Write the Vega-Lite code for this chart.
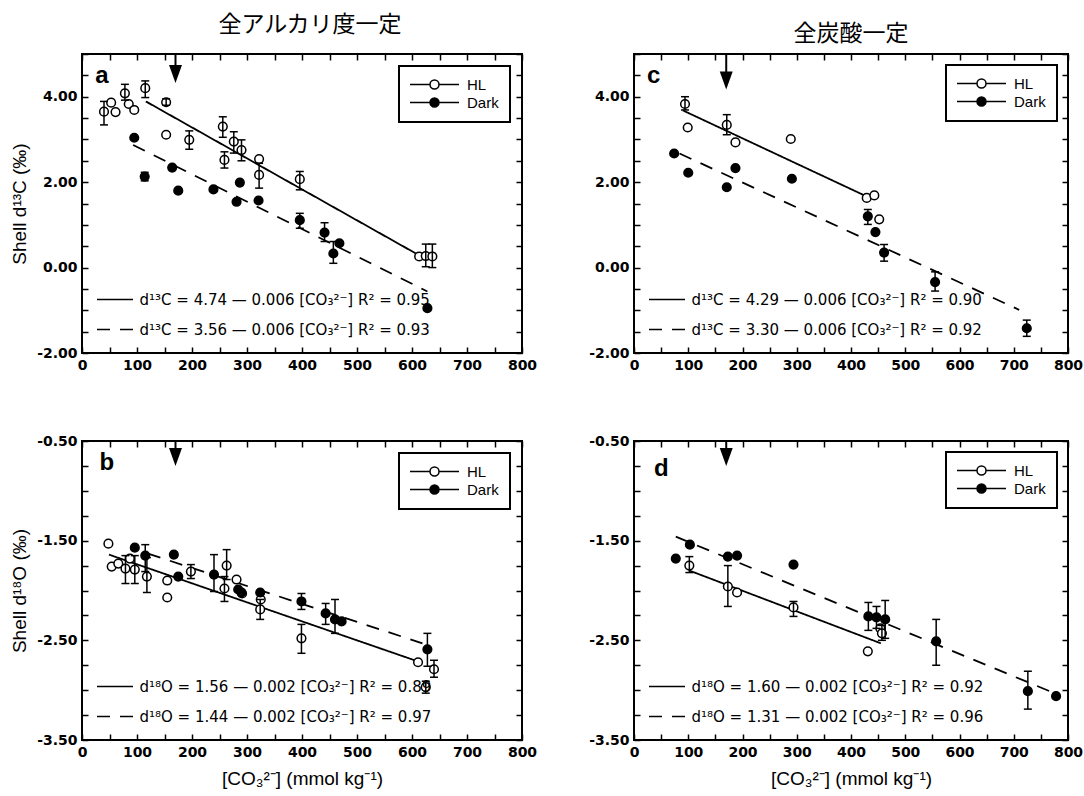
{
"$schema": "https://vega.github.io/schema/vega-lite/v6.json",
"padding": {"left": 9, "top": 13, "right": 0, "bottom": 0},
"columns": 2,
"spacing": {"row": 60, "column": 49},
"resolve": {"scale": {"strokeDash": "independent", "fill": "independent", "x": "independent", "y": "independent"}, "legend": {"strokeDash": "independent", "fill": "independent"}},
"datasets": {
"pa": [
{"x":40,"y":3.65,"series":"HL","lo":3.34,"hi":3.89},
{"x":53,"y":3.86,"series":"HL"},
{"x":61,"y":3.64,"series":"HL"},
{"x":78,"y":4.08,"series":"HL","lo":3.92,"hi":4.29},
{"x":85,"y":3.83,"series":"HL"},
{"x":95,"y":3.69,"series":"HL"},
{"x":115,"y":4.2,"series":"HL","lo":3.98,"hi":4.37},
{"x":153,"y":3.87,"series":"HL","lo":3.8,"hi":3.95},
{"x":153,"y":3.11,"series":"HL"},
{"x":195,"y":2.99,"series":"HL","lo":2.77,"hi":3.2},
{"x":256,"y":3.3,"series":"HL","lo":3.05,"hi":3.53},
{"x":259,"y":2.52,"series":"HL","lo":2.33,"hi":2.71},
{"x":276,"y":2.95,"series":"HL","lo":2.68,"hi":3.18},
{"x":290,"y":2.75,"series":"HL","lo":2.5,"hi":2.99},
{"x":322,"y":2.54,"series":"HL"},
{"x":322,"y":2.17,"series":"HL","lo":1.86,"hi":2.44},
{"x":396,"y":2.07,"series":"HL","lo":1.82,"hi":2.25},
{"x":613,"y":0.26,"series":"HL"},
{"x":625,"y":0.27,"series":"HL","lo":0.02,"hi":0.55},
{"x":637,"y":0.26,"series":"HL","lo":0.0,"hi":0.55},
{"x":95,"y":3.04,"series":"Dark"},
{"x":114,"y":2.13,"series":"Dark","lo":2.03,"hi":2.23},
{"x":164,"y":2.34,"series":"Dark"},
{"x":175,"y":1.8,"series":"Dark"},
{"x":239,"y":1.83,"series":"Dark"},
{"x":281,"y":1.54,"series":"Dark"},
{"x":287,"y":1.99,"series":"Dark"},
{"x":321,"y":1.57,"series":"Dark"},
{"x":396,"y":1.11,"series":"Dark","lo":0.92,"hi":1.27},
{"x":441,"y":0.82,"series":"Dark","lo":0.61,"hi":1.05},
{"x":457,"y":0.33,"series":"Dark","lo":0.1,"hi":0.61},
{"x":468,"y":0.57,"series":"Dark"},
{"x":628,"y":-0.95,"series":"Dark"}
],
"la": [
{"x":116,"y":3.89,"eq":"d¹³C = 4.74 — 0.006 [CO₃²⁻] R² = 0.95"},
{"x":607,"y":0.33,"eq":"d¹³C = 4.74 — 0.006 [CO₃²⁻] R² = 0.95"},
{"x":93,"y":2.87,"eq":"d¹³C = 3.56 — 0.006 [CO₃²⁻] R² = 0.93"},
{"x":628,"y":-0.56,"eq":"d¹³C = 3.56 — 0.006 [CO₃²⁻] R² = 0.93"}
],
"pb": [
{"x":48,"y":-1.53,"series":"HL"},
{"x":54,"y":-1.76,"series":"HL"},
{"x":66,"y":-1.73,"series":"HL"},
{"x":79,"y":-1.78,"series":"HL","lo":-1.93,"hi":-1.65},
{"x":87,"y":-1.68,"series":"HL"},
{"x":96,"y":-1.79,"series":"HL","lo":-1.93,"hi":-1.65},
{"x":118,"y":-1.86,"series":"HL","lo":-2.02,"hi":-1.67},
{"x":155,"y":-1.9,"series":"HL"},
{"x":155,"y":-2.07,"series":"HL"},
{"x":198,"y":-1.81,"series":"HL","lo":-1.88,"hi":-1.74},
{"x":259,"y":-1.98,"series":"HL","lo":-2.11,"hi":-1.86},
{"x":263,"y":-1.75,"series":"HL","lo":-1.89,"hi":-1.59},
{"x":281,"y":-1.89,"series":"HL"},
{"x":291,"y":-2.03,"series":"HL"},
{"x":325,"y":-2.09,"series":"HL"},
{"x":324,"y":-2.19,"series":"HL","lo":-2.29,"hi":-2.09},
{"x":399,"y":-2.48,"series":"HL","lo":-2.63,"hi":-2.34},
{"x":611,"y":-2.72,"series":"HL"},
{"x":625,"y":-2.97,"series":"HL","lo":-3.03,"hi":-2.91},
{"x":640,"y":-2.79,"series":"HL","lo":-2.87,"hi":-2.7},
{"x":96,"y":-1.57,"series":"Dark"},
{"x":115,"y":-1.65,"series":"Dark","lo":-1.81,"hi":-1.54},
{"x":167,"y":-1.64,"series":"Dark"},
{"x":175,"y":-1.86,"series":"Dark"},
{"x":240,"y":-1.84,"series":"Dark","lo":-2.01,"hi":-1.64},
{"x":284,"y":-1.99,"series":"Dark"},
{"x":290,"y":-2.02,"series":"Dark"},
{"x":324,"y":-2.02,"series":"Dark"},
{"x":399,"y":-2.11,"series":"Dark","lo":-2.19,"hi":-2.03},
{"x":443,"y":-2.23,"series":"Dark","lo":-2.34,"hi":-2.13},
{"x":460,"y":-2.29,"series":"Dark","lo":-2.43,"hi":-2.09},
{"x":472,"y":-2.31,"series":"Dark"},
{"x":628,"y":-2.59,"series":"Dark","lo":-2.76,"hi":-2.43}
],
"lb": [
{"x":49,"y":-1.64,"eq":"d¹⁸O = 1.56 — 0.002 [CO₃²⁻] R² = 0.89"},
{"x":610,"y":-2.71,"eq":"d¹⁸O = 1.56 — 0.002 [CO₃²⁻] R² = 0.89"},
{"x":120,"y":-1.63,"eq":"d¹⁸O = 1.44 — 0.002 [CO₃²⁻] R² = 0.97"},
{"x":619,"y":-2.53,"eq":"d¹⁸O = 1.44 — 0.002 [CO₃²⁻] R² = 0.97"}
],
"pc": [
{"x":94,"y":3.83,"series":"HL","lo":3.69,"hi":4.0},
{"x":99,"y":3.28,"series":"HL"},
{"x":171,"y":3.34,"series":"HL","lo":3.11,"hi":3.58},
{"x":187,"y":2.93,"series":"HL"},
{"x":289,"y":3.01,"series":"HL"},
{"x":429,"y":1.63,"series":"HL"},
{"x":443,"y":1.69,"series":"HL"},
{"x":452,"y":1.13,"series":"HL"},
{"x":74,"y":2.67,"series":"Dark"},
{"x":100,"y":2.22,"series":"Dark"},
{"x":171,"y":1.88,"series":"Dark"},
{"x":187,"y":2.33,"series":"Dark"},
{"x":291,"y":2.08,"series":"Dark"},
{"x":431,"y":1.2,"series":"Dark","lo":1.01,"hi":1.36},
{"x":445,"y":0.83,"series":"Dark"},
{"x":461,"y":0.35,"series":"Dark","lo":0.15,"hi":0.54},
{"x":555,"y":-0.34,"series":"Dark","lo":-0.55,"hi":-0.1},
{"x":724,"y":-1.42,"series":"Dark","lo":-1.61,"hi":-1.23}
],
"lc": [
{"x":90,"y":3.68,"eq":"d¹³C = 4.29 — 0.006 [CO₃²⁻] R² = 0.90"},
{"x":428,"y":1.67,"eq":"d¹³C = 4.29 — 0.006 [CO₃²⁻] R² = 0.90"},
{"x":84,"y":2.67,"eq":"d¹³C = 3.30 — 0.006 [CO₃²⁻] R² = 0.92"},
{"x":710,"y":-0.99,"eq":"d¹³C = 3.30 — 0.006 [CO₃²⁻] R² = 0.92"}
],
"pd": [
{"x":102,"y":-1.75,"series":"HL","lo":-1.82,"hi":-1.66},
{"x":173,"y":-1.96,"series":"HL","lo":-2.16,"hi":-1.75},
{"x":190,"y":-2.02,"series":"HL"},
{"x":294,"y":-2.17,"series":"HL","lo":-2.26,"hi":-2.11},
{"x":431,"y":-2.61,"series":"HL"},
{"x":454,"y":-2.38,"series":"HL"},
{"x":457,"y":-2.43,"series":"HL","lo":-2.5,"hi":-2.35},
{"x":77,"y":-1.68,"series":"Dark"},
{"x":103,"y":-1.54,"series":"Dark"},
{"x":173,"y":-1.66,"series":"Dark"},
{"x":190,"y":-1.65,"series":"Dark"},
{"x":294,"y":-1.74,"series":"Dark"},
{"x":432,"y":-2.26,"series":"Dark","lo":-2.4,"hi":-2.12},
{"x":447,"y":-2.27,"series":"Dark","lo":-2.38,"hi":-2.16},
{"x":463,"y":-2.29,"series":"Dark","lo":-2.48,"hi":-2.1},
{"x":557,"y":-2.51,"series":"Dark","lo":-2.75,"hi":-2.29},
{"x":726,"y":-3.01,"series":"Dark","lo":-3.19,"hi":-2.81},
{"x":778,"y":-3.06,"series":"Dark"}
],
"ld": [
{"x":102,"y":-1.8,"eq":"d¹⁸O = 1.60 — 0.002 [CO₃²⁻] R² = 0.92"},
{"x":455,"y":-2.53,"eq":"d¹⁸O = 1.60 — 0.002 [CO₃²⁻] R² = 0.92"},
{"x":77,"y":-1.46,"eq":"d¹⁸O = 1.31 — 0.002 [CO₃²⁻] R² = 0.96"},
{"x":775,"y":-3.03,"eq":"d¹⁸O = 1.31 — 0.002 [CO₃²⁻] R² = 0.96"}
]
},
"concat": [
{
"width": 440, "height": 299,
"title": {"text": "全アルカリ度一定", "font": "Noto Sans CJK JP", "fontSize": 23, "fontWeight": "normal", "color": "black", "anchor": "middle", "frame": "group", "offset": 10, "dx": 8},
"data": {"values": [{}]},
"resolve": {"axis": {"x": "independent", "y": "independent"}},
"layer": [
{"data": {"name": "la"}, "mark": {"type": "line", "color": "black", "strokeWidth": 1.8},
 "encoding": {
  "x": {"field": "x", "type": "quantitative", "scale": {"domain": [0, 800], "nice": false, "zero": false}, "axis": {"orient": "top", "values": [0,50,100,150,200,250,300,350,400,450,500,550,600,650,700,750,800], "labels": false, "title": null}},
  "y": {"field": "y", "type": "quantitative", "scale": {"domain": [-2, 5], "nice": false, "zero": false}, "axis": {"orient": "right", "values": [-2,-1.5,-1,-0.5,0,0.5,1,1.5,2,2.5,3,3.5,4,4.5,5], "labels": false, "title": null}},
  "strokeDash": {"field": "eq", "type": "nominal", "scale": {"domain": ["d¹³C = 4.74 — 0.006 [CO₃²⁻] R² = 0.95", "d¹³C = 3.56 — 0.006 [CO₃²⁻] R² = 0.93"], "range": [[1, 0], [13, 10]]},
   "legend": {"title": null, "orient": "bottom-left", "offset": 15, "padding": 0, "symbolType": "M-3.6,0H3.6", "symbolSize": 100, "symbolStrokeColor": "black", "symbolStrokeWidth": 1.5, "symbolOffset": 10.5, "labelOffset": 17, "rowPadding": 14, "labelFont": "DejaVu Sans", "labelFontSize": 15, "labelColor": "black", "labelLimit": 600}}
 }},
{"data": {"name": "pa"}, "mark": {"type": "point", "size": 75, "stroke": "black", "strokeWidth": 1.5, "opacity": 1},
 "encoding": {
  "x": {"field": "x", "type": "quantitative", "scale": {"domain": [0, 800], "nice": false, "zero": false}, "axis": {"orient": "bottom", "values": [0,50,100,150,200,250,300,350,400,450,500,550,600,650,700,750,800], "labelExpr": "datum.value % 100 === 0 ? format(datum.value, 'd') : ''", "title": null}},
  "y": {"field": "y", "type": "quantitative", "scale": {"domain": [-2, 5], "nice": false, "zero": false}, "axis": {"orient": "left", "values": [-2,-1.5,-1,-0.5,0,0.5,1,1.5,2,2.5,3,3.5,4,4.5,5], "labelExpr": "datum.value % 2 === 0 ? replace(format(datum.value, '.2f'), '−', '-') : ''", "title": "Shell d¹³C (‰)", "titlePadding": 7}},
  "fill": {"field": "series", "type": "nominal", "scale": {"domain": ["HL", "Dark"], "range": ["white", "black"]},
   "legend": {"title": null, "orient": "top-right", "offset": 12, "strokeColor": "black", "fillColor": "white", "padding": 11, "symbolType": "M-4.9,0H-0.9M0.9,0H4.9M-0.9,0A0.9,0.9 0 1,0 0.9,0A0.9,0.9 0 1,0 -0.9,0", "symbolSize": 100, "symbolStrokeColor": "black", "symbolStrokeWidth": 1.5, "symbolOffset": 17, "labelOffset": 25, "rowPadding": 2, "labelFont": "Liberation Sans", "labelFontSize": 15, "labelColor": "black"}}
 }},
{"data": {"name": "pa"}, "transform": [{"filter": "isValid(datum.lo)"}], "mark": {"type": "rule", "color": "black", "strokeWidth": 1.5},
 "encoding": {
  "x": {"field": "x", "type": "quantitative", "scale": {"domain": [0, 800], "nice": false, "zero": false}, "axis": null},
  "y": {"field": "lo", "type": "quantitative", "scale": {"domain": [-2, 5], "nice": false, "zero": false}, "axis": null},
  "y2": {"field": "hi"}
 }},
{"data": {"name": "pa"}, "transform": [{"filter": "isValid(datum.lo)"}], "mark": {"type": "point", "shape": "stroke", "size": 64, "color": "black", "strokeWidth": 1.5, "opacity": 1},
 "encoding": {
  "x": {"field": "x", "type": "quantitative", "scale": {"domain": [0, 800], "nice": false, "zero": false}, "axis": null},
  "y": {"field": "lo", "type": "quantitative", "scale": {"domain": [-2, 5], "nice": false, "zero": false}, "axis": null}
 }},
{"data": {"name": "pa"}, "transform": [{"filter": "isValid(datum.hi)"}], "mark": {"type": "point", "shape": "stroke", "size": 64, "color": "black", "strokeWidth": 1.5, "opacity": 1},
 "encoding": {
  "x": {"field": "x", "type": "quantitative", "scale": {"domain": [0, 800], "nice": false, "zero": false}, "axis": null},
  "y": {"field": "hi", "type": "quantitative", "scale": {"domain": [-2, 5], "nice": false, "zero": false}, "axis": null}
 }},
{"mark": {"type": "rule", "color": "black", "strokeWidth": 2},
 "encoding": {
  "x": {"datum": 170, "type": "quantitative", "scale": {"domain": [0, 800], "nice": false, "zero": false}, "axis": null},
  "y": {"datum": 5, "type": "quantitative", "scale": {"domain": [-2, 5], "nice": false, "zero": false}, "axis": null},
  "y2": {"datum": 4.53}
 }},
{"mark": {"type": "point", "shape": "M-0.72,-1L0.72,-1L0,1Z", "size": 324, "filled": true, "color": "black", "opacity": 1},
 "encoding": {
  "x": {"datum": 170, "type": "quantitative", "scale": {"domain": [0, 800], "nice": false, "zero": false}, "axis": null},
  "y": {"datum": 4.53, "type": "quantitative", "scale": {"domain": [-2, 5], "nice": false, "zero": false}, "axis": null}
 }},
{"mark": {"type": "text", "text": "a", "font": "Liberation Sans", "fontSize": 24, "fontWeight": "bold", "align": "left", "baseline": "alphabetic", "color": "black"},
 "encoding": {
  "x": {"datum": 24, "type": "quantitative", "scale": {"domain": [0, 800], "nice": false, "zero": false}, "axis": null},
  "y": {"datum": 4.32, "type": "quantitative", "scale": {"domain": [-2, 5], "nice": false, "zero": false}, "axis": null}
 }}
]
},
{
"width": 434, "height": 299,
"title": {"text": "全炭酸一定", "font": "Noto Sans CJK JP", "fontSize": 23, "fontWeight": "normal", "color": "black", "anchor": "middle", "frame": "group", "offset": 1},
"data": {"values": [{}]},
"resolve": {"axis": {"x": "independent", "y": "independent"}},
"layer": [
{"data": {"name": "lc"}, "mark": {"type": "line", "color": "black", "strokeWidth": 1.8},
 "encoding": {
  "x": {"field": "x", "type": "quantitative", "scale": {"domain": [0, 800], "nice": false, "zero": false}, "axis": {"orient": "top", "values": [0,50,100,150,200,250,300,350,400,450,500,550,600,650,700,750,800], "labels": false, "title": null}},
  "y": {"field": "y", "type": "quantitative", "scale": {"domain": [-2, 5], "nice": false, "zero": false}, "axis": {"orient": "right", "values": [-2,-1.5,-1,-0.5,0,0.5,1,1.5,2,2.5,3,3.5,4,4.5,5], "labels": false, "title": null}},
  "strokeDash": {"field": "eq", "type": "nominal", "scale": {"domain": ["d¹³C = 4.29 — 0.006 [CO₃²⁻] R² = 0.90", "d¹³C = 3.30 — 0.006 [CO₃²⁻] R² = 0.92"], "range": [[1, 0], [13, 10]]},
   "legend": {"title": null, "orient": "bottom-left", "offset": 15, "padding": 0, "symbolType": "M-3.6,0H3.6", "symbolSize": 100, "symbolStrokeColor": "black", "symbolStrokeWidth": 1.5, "symbolOffset": 10.5, "labelOffset": 17, "rowPadding": 14, "labelFont": "DejaVu Sans", "labelFontSize": 15, "labelColor": "black", "labelLimit": 600}}
 }},
{"data": {"name": "pc"}, "mark": {"type": "point", "size": 75, "stroke": "black", "strokeWidth": 1.5, "opacity": 1},
 "encoding": {
  "x": {"field": "x", "type": "quantitative", "scale": {"domain": [0, 800], "nice": false, "zero": false}, "axis": {"orient": "bottom", "values": [0,50,100,150,200,250,300,350,400,450,500,550,600,650,700,750,800], "labelExpr": "datum.value % 100 === 0 ? format(datum.value, 'd') : ''", "title": null}},
  "y": {"field": "y", "type": "quantitative", "scale": {"domain": [-2, 5], "nice": false, "zero": false}, "axis": {"orient": "left", "values": [-2,-1.5,-1,-0.5,0,0.5,1,1.5,2,2.5,3,3.5,4,4.5,5], "labelExpr": "datum.value % 2 === 0 ? replace(format(datum.value, '.2f'), '−', '-') : ''", "title": null}},
  "fill": {"field": "series", "type": "nominal", "scale": {"domain": ["HL", "Dark"], "range": ["white", "black"]},
   "legend": {"title": null, "orient": "top-right", "offset": 11, "strokeColor": "black", "fillColor": "white", "padding": 11, "symbolType": "M-4.9,0H-0.9M0.9,0H4.9M-0.9,0A0.9,0.9 0 1,0 0.9,0A0.9,0.9 0 1,0 -0.9,0", "symbolSize": 100, "symbolStrokeColor": "black", "symbolStrokeWidth": 1.5, "symbolOffset": 17, "labelOffset": 25, "rowPadding": 2, "labelFont": "Liberation Sans", "labelFontSize": 15, "labelColor": "black"}}
 }},
{"data": {"name": "pc"}, "transform": [{"filter": "isValid(datum.lo)"}], "mark": {"type": "rule", "color": "black", "strokeWidth": 1.5},
 "encoding": {
  "x": {"field": "x", "type": "quantitative", "scale": {"domain": [0, 800], "nice": false, "zero": false}, "axis": null},
  "y": {"field": "lo", "type": "quantitative", "scale": {"domain": [-2, 5], "nice": false, "zero": false}, "axis": null},
  "y2": {"field": "hi"}
 }},
{"data": {"name": "pc"}, "transform": [{"filter": "isValid(datum.lo)"}], "mark": {"type": "point", "shape": "stroke", "size": 64, "color": "black", "strokeWidth": 1.5, "opacity": 1},
 "encoding": {
  "x": {"field": "x", "type": "quantitative", "scale": {"domain": [0, 800], "nice": false, "zero": false}, "axis": null},
  "y": {"field": "lo", "type": "quantitative", "scale": {"domain": [-2, 5], "nice": false, "zero": false}, "axis": null}
 }},
{"data": {"name": "pc"}, "transform": [{"filter": "isValid(datum.hi)"}], "mark": {"type": "point", "shape": "stroke", "size": 64, "color": "black", "strokeWidth": 1.5, "opacity": 1},
 "encoding": {
  "x": {"field": "x", "type": "quantitative", "scale": {"domain": [0, 800], "nice": false, "zero": false}, "axis": null},
  "y": {"field": "hi", "type": "quantitative", "scale": {"domain": [-2, 5], "nice": false, "zero": false}, "axis": null}
 }},
{"mark": {"type": "rule", "color": "black", "strokeWidth": 2},
 "encoding": {
  "x": {"datum": 170, "type": "quantitative", "scale": {"domain": [0, 800], "nice": false, "zero": false}, "axis": null},
  "y": {"datum": 5, "type": "quantitative", "scale": {"domain": [-2, 5], "nice": false, "zero": false}, "axis": null},
  "y2": {"datum": 4.38}
 }},
{"mark": {"type": "point", "shape": "M-0.72,-1L0.72,-1L0,1Z", "size": 324, "filled": true, "color": "black", "opacity": 1},
 "encoding": {
  "x": {"datum": 170, "type": "quantitative", "scale": {"domain": [0, 800], "nice": false, "zero": false}, "axis": null},
  "y": {"datum": 4.38, "type": "quantitative", "scale": {"domain": [-2, 5], "nice": false, "zero": false}, "axis": null}
 }},
{"mark": {"type": "text", "text": "c", "font": "Liberation Sans", "fontSize": 24, "fontWeight": "bold", "align": "left", "baseline": "alphabetic", "color": "black"},
 "encoding": {
  "x": {"datum": 24, "type": "quantitative", "scale": {"domain": [0, 800], "nice": false, "zero": false}, "axis": null},
  "y": {"datum": 4.32, "type": "quantitative", "scale": {"domain": [-2, 5], "nice": false, "zero": false}, "axis": null}
 }}
]
},
{
"width": 440, "height": 299,
"data": {"values": [{}]},
"resolve": {"axis": {"x": "independent", "y": "independent"}},
"layer": [
{"data": {"name": "lb"}, "mark": {"type": "line", "color": "black", "strokeWidth": 1.8},
 "encoding": {
  "x": {"field": "x", "type": "quantitative", "scale": {"domain": [0, 800], "nice": false, "zero": false}, "axis": {"orient": "top", "values": [0,50,100,150,200,250,300,350,400,450,500,550,600,650,700,750,800], "labels": false, "title": null}},
  "y": {"field": "y", "type": "quantitative", "scale": {"domain": [-3.5, -0.5], "nice": false, "zero": false}, "axis": {"orient": "right", "values": [-3.5,-3.25,-3,-2.75,-2.5,-2.25,-2,-1.75,-1.5,-1.25,-1,-0.75,-0.5], "labels": false, "title": null}},
  "strokeDash": {"field": "eq", "type": "nominal", "scale": {"domain": ["d¹⁸O = 1.56 — 0.002 [CO₃²⁻] R² = 0.89", "d¹⁸O = 1.44 — 0.002 [CO₃²⁻] R² = 0.97"], "range": [[1, 0], [13, 10]]},
   "legend": {"title": null, "orient": "bottom-left", "offset": 15, "padding": 0, "symbolType": "M-3.6,0H3.6", "symbolSize": 100, "symbolStrokeColor": "black", "symbolStrokeWidth": 1.5, "symbolOffset": 10.5, "labelOffset": 17, "rowPadding": 14, "labelFont": "DejaVu Sans", "labelFontSize": 15, "labelColor": "black", "labelLimit": 600}}
 }},
{"data": {"name": "pb"}, "mark": {"type": "point", "size": 75, "stroke": "black", "strokeWidth": 1.5, "opacity": 1},
 "encoding": {
  "x": {"field": "x", "type": "quantitative", "scale": {"domain": [0, 800], "nice": false, "zero": false}, "axis": {"orient": "bottom", "values": [0,50,100,150,200,250,300,350,400,450,500,550,600,650,700,750,800], "labelExpr": "datum.value % 100 === 0 ? format(datum.value, 'd') : ''", "title": "[CO₃²⁻] (mmol kg⁻¹)", "titlePadding": 10}},
  "y": {"field": "y", "type": "quantitative", "scale": {"domain": [-3.5, -0.5], "nice": false, "zero": false}, "axis": {"orient": "left", "values": [-3.5,-3.25,-3,-2.75,-2.5,-2.25,-2,-1.75,-1.5,-1.25,-1,-0.75,-0.5], "labelExpr": "(datum.value + 0.5) % 1 === 0 ? replace(format(datum.value, '.2f'), '−', '-') : ''", "title": "Shell d¹⁸O (‰)", "titlePadding": 7}},
  "fill": {"field": "series", "type": "nominal", "scale": {"domain": ["HL", "Dark"], "range": ["white", "black"]},
   "legend": {"title": null, "orient": "top-right", "offset": 12, "strokeColor": "black", "fillColor": "white", "padding": 11, "symbolType": "M-4.9,0H-0.9M0.9,0H4.9M-0.9,0A0.9,0.9 0 1,0 0.9,0A0.9,0.9 0 1,0 -0.9,0", "symbolSize": 100, "symbolStrokeColor": "black", "symbolStrokeWidth": 1.5, "symbolOffset": 17, "labelOffset": 25, "rowPadding": 2, "labelFont": "Liberation Sans", "labelFontSize": 15, "labelColor": "black"}}
 }},
{"data": {"name": "pb"}, "transform": [{"filter": "isValid(datum.lo)"}], "mark": {"type": "rule", "color": "black", "strokeWidth": 1.5},
 "encoding": {
  "x": {"field": "x", "type": "quantitative", "scale": {"domain": [0, 800], "nice": false, "zero": false}, "axis": null},
  "y": {"field": "lo", "type": "quantitative", "scale": {"domain": [-3.5, -0.5], "nice": false, "zero": false}, "axis": null},
  "y2": {"field": "hi"}
 }},
{"data": {"name": "pb"}, "transform": [{"filter": "isValid(datum.lo)"}], "mark": {"type": "point", "shape": "stroke", "size": 64, "color": "black", "strokeWidth": 1.5, "opacity": 1},
 "encoding": {
  "x": {"field": "x", "type": "quantitative", "scale": {"domain": [0, 800], "nice": false, "zero": false}, "axis": null},
  "y": {"field": "lo", "type": "quantitative", "scale": {"domain": [-3.5, -0.5], "nice": false, "zero": false}, "axis": null}
 }},
{"data": {"name": "pb"}, "transform": [{"filter": "isValid(datum.hi)"}], "mark": {"type": "point", "shape": "stroke", "size": 64, "color": "black", "strokeWidth": 1.5, "opacity": 1},
 "encoding": {
  "x": {"field": "x", "type": "quantitative", "scale": {"domain": [0, 800], "nice": false, "zero": false}, "axis": null},
  "y": {"field": "hi", "type": "quantitative", "scale": {"domain": [-3.5, -0.5], "nice": false, "zero": false}, "axis": null}
 }},
{"mark": {"type": "rule", "color": "black", "strokeWidth": 2},
 "encoding": {
  "x": {"datum": 170, "type": "quantitative", "scale": {"domain": [0, 800], "nice": false, "zero": false}, "axis": null},
  "y": {"datum": -0.5, "type": "quantitative", "scale": {"domain": [-3.5, -0.5], "nice": false, "zero": false}, "axis": null},
  "y2": {"datum": -0.66}
 }},
{"mark": {"type": "point", "shape": "M-0.72,-1L0.72,-1L0,1Z", "size": 324, "filled": true, "color": "black", "opacity": 1},
 "encoding": {
  "x": {"datum": 170, "type": "quantitative", "scale": {"domain": [0, 800], "nice": false, "zero": false}, "axis": null},
  "y": {"datum": -0.66, "type": "quantitative", "scale": {"domain": [-3.5, -0.5], "nice": false, "zero": false}, "axis": null}
 }},
{"mark": {"type": "text", "text": "b", "font": "Liberation Sans", "fontSize": 24, "fontWeight": "bold", "align": "left", "baseline": "alphabetic", "color": "black"},
 "encoding": {
  "x": {"datum": 32, "type": "quantitative", "scale": {"domain": [0, 800], "nice": false, "zero": false}, "axis": null},
  "y": {"datum": -0.79, "type": "quantitative", "scale": {"domain": [-3.5, -0.5], "nice": false, "zero": false}, "axis": null}
 }}
]
},
{
"width": 434, "height": 299,
"data": {"values": [{}]},
"resolve": {"axis": {"x": "independent", "y": "independent"}},
"layer": [
{"data": {"name": "ld"}, "mark": {"type": "line", "color": "black", "strokeWidth": 1.8},
 "encoding": {
  "x": {"field": "x", "type": "quantitative", "scale": {"domain": [0, 800], "nice": false, "zero": false}, "axis": {"orient": "top", "values": [0,50,100,150,200,250,300,350,400,450,500,550,600,650,700,750,800], "labels": false, "title": null}},
  "y": {"field": "y", "type": "quantitative", "scale": {"domain": [-3.5, -0.5], "nice": false, "zero": false}, "axis": {"orient": "right", "values": [-3.5,-3.25,-3,-2.75,-2.5,-2.25,-2,-1.75,-1.5,-1.25,-1,-0.75,-0.5], "labels": false, "title": null}},
  "strokeDash": {"field": "eq", "type": "nominal", "scale": {"domain": ["d¹⁸O = 1.60 — 0.002 [CO₃²⁻] R² = 0.92", "d¹⁸O = 1.31 — 0.002 [CO₃²⁻] R² = 0.96"], "range": [[1, 0], [13, 10]]},
   "legend": {"title": null, "orient": "bottom-left", "offset": 15, "padding": 0, "symbolType": "M-3.6,0H3.6", "symbolSize": 100, "symbolStrokeColor": "black", "symbolStrokeWidth": 1.5, "symbolOffset": 10.5, "labelOffset": 17, "rowPadding": 14, "labelFont": "DejaVu Sans", "labelFontSize": 15, "labelColor": "black", "labelLimit": 600}}
 }},
{"data": {"name": "pd"}, "mark": {"type": "point", "size": 75, "stroke": "black", "strokeWidth": 1.5, "opacity": 1},
 "encoding": {
  "x": {"field": "x", "type": "quantitative", "scale": {"domain": [0, 800], "nice": false, "zero": false}, "axis": {"orient": "bottom", "values": [0,50,100,150,200,250,300,350,400,450,500,550,600,650,700,750,800], "labelExpr": "datum.value % 100 === 0 ? format(datum.value, 'd') : ''", "title": "[CO₃²⁻] (mmol kg⁻¹)", "titlePadding": 10}},
  "y": {"field": "y", "type": "quantitative", "scale": {"domain": [-3.5, -0.5], "nice": false, "zero": false}, "axis": {"orient": "left", "values": [-3.5,-3.25,-3,-2.75,-2.5,-2.25,-2,-1.75,-1.5,-1.25,-1,-0.75,-0.5], "labelExpr": "(datum.value + 0.5) % 1 === 0 ? replace(format(datum.value, '.2f'), '−', '-') : ''", "title": null}},
  "fill": {"field": "series", "type": "nominal", "scale": {"domain": ["HL", "Dark"], "range": ["white", "black"]},
   "legend": {"title": null, "orient": "top-right", "offset": 11, "strokeColor": "black", "fillColor": "white", "padding": 11, "symbolType": "M-4.9,0H-0.9M0.9,0H4.9M-0.9,0A0.9,0.9 0 1,0 0.9,0A0.9,0.9 0 1,0 -0.9,0", "symbolSize": 100, "symbolStrokeColor": "black", "symbolStrokeWidth": 1.5, "symbolOffset": 17, "labelOffset": 25, "rowPadding": 2, "labelFont": "Liberation Sans", "labelFontSize": 15, "labelColor": "black"}}
 }},
{"data": {"name": "pd"}, "transform": [{"filter": "isValid(datum.lo)"}], "mark": {"type": "rule", "color": "black", "strokeWidth": 1.5},
 "encoding": {
  "x": {"field": "x", "type": "quantitative", "scale": {"domain": [0, 800], "nice": false, "zero": false}, "axis": null},
  "y": {"field": "lo", "type": "quantitative", "scale": {"domain": [-3.5, -0.5], "nice": false, "zero": false}, "axis": null},
  "y2": {"field": "hi"}
 }},
{"data": {"name": "pd"}, "transform": [{"filter": "isValid(datum.lo)"}], "mark": {"type": "point", "shape": "stroke", "size": 64, "color": "black", "strokeWidth": 1.5, "opacity": 1},
 "encoding": {
  "x": {"field": "x", "type": "quantitative", "scale": {"domain": [0, 800], "nice": false, "zero": false}, "axis": null},
  "y": {"field": "lo", "type": "quantitative", "scale": {"domain": [-3.5, -0.5], "nice": false, "zero": false}, "axis": null}
 }},
{"data": {"name": "pd"}, "transform": [{"filter": "isValid(datum.hi)"}], "mark": {"type": "point", "shape": "stroke", "size": 64, "color": "black", "strokeWidth": 1.5, "opacity": 1},
 "encoding": {
  "x": {"field": "x", "type": "quantitative", "scale": {"domain": [0, 800], "nice": false, "zero": false}, "axis": null},
  "y": {"field": "hi", "type": "quantitative", "scale": {"domain": [-3.5, -0.5], "nice": false, "zero": false}, "axis": null}
 }},
{"mark": {"type": "rule", "color": "black", "strokeWidth": 2},
 "encoding": {
  "x": {"datum": 170, "type": "quantitative", "scale": {"domain": [0, 800], "nice": false, "zero": false}, "axis": null},
  "y": {"datum": -0.5, "type": "quantitative", "scale": {"domain": [-3.5, -0.5], "nice": false, "zero": false}, "axis": null},
  "y2": {"datum": -0.66}
 }},
{"mark": {"type": "point", "shape": "M-0.72,-1L0.72,-1L0,1Z", "size": 324, "filled": true, "color": "black", "opacity": 1},
 "encoding": {
  "x": {"datum": 170, "type": "quantitative", "scale": {"domain": [0, 800], "nice": false, "zero": false}, "axis": null},
  "y": {"datum": -0.66, "type": "quantitative", "scale": {"domain": [-3.5, -0.5], "nice": false, "zero": false}, "axis": null}
 }},
{"mark": {"type": "text", "text": "d", "font": "Liberation Sans", "fontSize": 24, "fontWeight": "bold", "align": "left", "baseline": "alphabetic", "color": "black"},
 "encoding": {
  "x": {"datum": 37, "type": "quantitative", "scale": {"domain": [0, 800], "nice": false, "zero": false}, "axis": null},
  "y": {"datum": -0.85, "type": "quantitative", "scale": {"domain": [-3.5, -0.5], "nice": false, "zero": false}, "axis": null}
 }}
]
}
],
"config": {
"font": "Liberation Sans",
"background": "white",
"view": {"stroke": "black", "strokeWidth": 2},
"axis": {"domain": false, "grid": false, "tickSize": -6, "tickWidth": 1.5, "tickColor": "black", "labelColor": "black", "labelFont": "DejaVu Sans", "labelFontWeight": "bold", "labelFontSize": 14, "labelPadding": 11, "labelFlush": false, "labelOverlap": false, "titleFont": "Liberation Sans", "titleFontSize": 19, "titleFontWeight": "normal", "titleColor": "black"},
"legend": {"strokeWidth": 2}
}
}
